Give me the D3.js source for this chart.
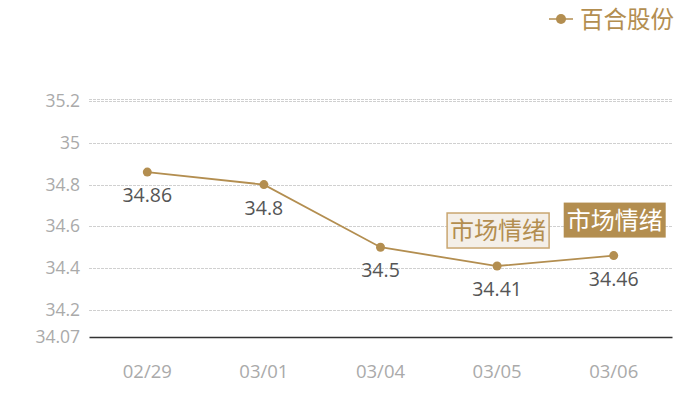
<!DOCTYPE html>
<html><head><meta charset="utf-8">
<script src="https://cdn.jsdelivr.net/npm/d3@7"></script>
<style>body{margin:0;background:#fff}svg{display:block}</style>
</head><body><svg id="c" width="700" height="400"></svg>
<script>
const categories = ["02/29","03/01","03/04","03/05","03/06"];
const values = [34.86, 34.8, 34.5, 34.41, 34.46];
const seriesName = "百合股份";
const yTicks = [34.07, 34.2, 34.4, 34.6, 34.8, 35, 35.2];
const yMin = 34.07, yMax = 35.21;
const annotations = [{cat:"03/05", text:"市场情绪", style:"light"},{cat:"03/06", text:"市场情绪", style:"dark"}];

const color = "#b38e50";
const font = "'Noto Sans CJK SC','Noto Sans',sans-serif";
const numFont = "'Open Sans','Noto Sans',sans-serif";
const svg = d3.select("#c");
const L = 89, R = 672, T = 99, B = 337;
const x = d3.scaleBand().domain(categories).range([L, R]);
const y = d3.scaleLinear().domain([yMin, yMax]).range([B, T]);
const cx = c => x(c) + x.bandwidth()/2;

// grid
svg.append("g").selectAll("line").data(yTicks.filter(t=>t!==yMin).concat([yMax])).join("line")
  .attr("x1", L).attr("x2", R).attr("y1", d=>Math.round(y(d))+0.5).attr("y2", d=>Math.round(y(d))+0.5)
  .attr("stroke", "#d0d0d0").attr("stroke-width", 1).attr("stroke-dasharray", "3,1");

// y axis labels
const yAxis = d3.axisLeft(y).tickValues(yTicks).tickSize(0).tickPadding(9).tickFormat(d=>String(d));
const ya = svg.append("g").attr("transform", `translate(${L},0)`).call(yAxis);
ya.select(".domain").remove();
ya.selectAll("text").attr("fill", "#aaa").attr("font-size", 17.5).attr("font-family", numFont);

// x axis
const xAxis = d3.axisBottom(x).tickSize(0).tickPadding(28);
const xa = svg.append("g").attr("transform", `translate(0,${B})`).call(xAxis);
xa.select(".domain").attr("stroke", "#333").attr("stroke-width", 1.3);
xa.selectAll("text").attr("fill", "#aaa").attr("font-size", 18.5).attr("font-family", numFont);

// line
const data = categories.map((c,i)=>({c, v: values[i]}));
svg.append("path").datum(data)
  .attr("d", d3.line().x(d=>cx(d.c)).y(d=>y(d.v)))
  .attr("fill","none").attr("stroke", color).attr("stroke-width", 1.8);
svg.append("g").selectAll("circle").data(data).join("circle")
  .attr("cx", d=>cx(d.c)).attr("cy", d=>y(d.v)).attr("r", 4.5).attr("fill", color);

// value labels
svg.append("g").selectAll("text").data(data).join("text")
  .attr("x", d=>cx(d.c)).attr("y", d=>y(d.v)+30)
  .attr("text-anchor","middle").attr("fill","#555").attr("font-size",19.5).attr("font-family",numFont)
  .text(d=>String(d.v));

// annotations
annotations.forEach(a=>{
  const i = categories.indexOf(a.cat);
  const px = cx(a.cat), py = y(values[i]);
  const w = 102, h = 35;
  const bx = px - w/2 + 1, by = py - 18 - h;
  const g = svg.append("g");
  g.append("rect").attr("x", bx).attr("y", by).attr("width", w).attr("height", h)
    .attr("fill", a.style==="dark" ? color : "#f4efe8")
    .attr("stroke", a.style==="dark" ? "none" : "#c9a670").attr("stroke-width", 1.5);
  g.append("text").attr("x", bx + w/2).attr("y", by + h/2 + 8.5)
    .attr("text-anchor","middle").attr("font-size", 24).attr("font-family", font)
    .attr("fill", a.style==="dark" ? "#fff" : color).text(a.text);
});

// legend
const lg = svg.append("g");
lg.append("line").attr("x1",549).attr("x2",573).attr("y1",19).attr("y2",19).attr("stroke",color).attr("stroke-width",1.5);
lg.append("circle").attr("cx",561).attr("cy",19).attr("r",5).attr("fill",color);
lg.append("text").attr("x",580).attr("y",28).attr("font-size",23.5).attr("font-family",font).attr("fill",color).text(seriesName);
</script></body></html>
